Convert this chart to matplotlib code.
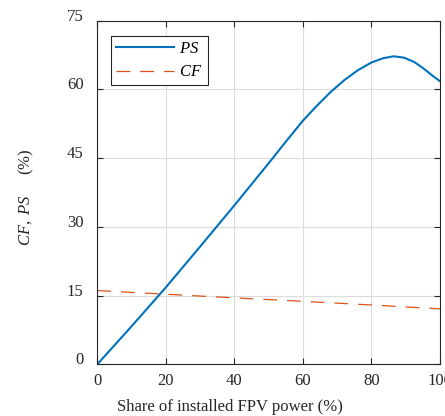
import numpy as np
import matplotlib.pyplot as plt
from matplotlib.transforms import ScaledTranslation

# Data
share = [0, 10, 20, 30, 40, 50, 55, 60, 64, 68, 72, 76, 80, 83.5, 86.5, 89.5, 92.5, 95, 98, 100]
ps = [0, 8.3, 16.8, 25.7, 34.7, 43.9, 48.6, 53.2, 56.4, 59.4, 62.0, 64.2, 65.9, 66.85, 67.25,
      66.95, 66.0, 64.7, 62.9, 61.8]
cf_share = [0, 20, 40, 60, 80, 100]
cf = [16.1, 15.3, 14.5, 13.75, 12.95, 12.1]

xticks = [0, 20, 40, 60, 80, 100]
yticks = [0, 15, 30, 45, 60, 75]

plt.rcParams['font.family'] = ['Liberation Serif', 'DejaVu Serif']
plt.rcParams['mathtext.fontset'] = 'custom'
plt.rcParams['mathtext.it'] = 'Liberation Serif:italic'
plt.rcParams['mathtext.rm'] = 'Liberation Serif'

fig = plt.figure(figsize=(4.45, 4.16), dpi=100)
ax = fig.add_axes([0.2187, 0.1243, 0.7701, 0.8257])

ax.plot(share, ps, color='#0072BD', lw=1.5, label=r'$PS$')
ax.plot(cf_share, cf, color='#D95319', lw=0.9, ls=(0, (11, 8)), label=r'$CF$')

ax.set_xlim(0, 100)
ax.set_ylim(0, 75)
ax.set_xticks(xticks)
ax.set_yticks(yticks)
ax.grid(True, color='#dcdcdc', lw=0.8)
ax.tick_params(direction='in', top=True, right=True, labelsize=12,
               colors='#262626', length=4, width=0.8)
ax.tick_params(axis='x', pad=6)
ax.tick_params(axis='y', pad=10)
for lab in ax.get_yticklabels():
    lab.set_transform(lab.get_transform() + ScaledTranslation(0, 6 / 100, fig.dpi_scale_trans))
for s in ax.spines.values():
    s.set_color('#262626')
    s.set_linewidth(0.8)

ax.set_xlabel('Share of installed FPV power (%)', fontsize=12, color='#262626')
ax.xaxis.set_label_coords(0.387, -0.1)
ax.set_ylabel(r'$CF,\ PS$     (%)', fontsize=12, color='#262626')
ax.yaxis.set_label_coords(-0.18, 0.487)

leg = ax.legend(loc='upper left', bbox_to_anchor=(0.04, 0.956), fontsize=12,
                handlelength=3.5, fancybox=False, framealpha=1, edgecolor='#262626',
                borderpad=0.3, labelspacing=0.45, handletextpad=0.3, borderaxespad=0)
leg.get_frame().set_linewidth(0.8)

fig.savefig('out.png', dpi=100)
